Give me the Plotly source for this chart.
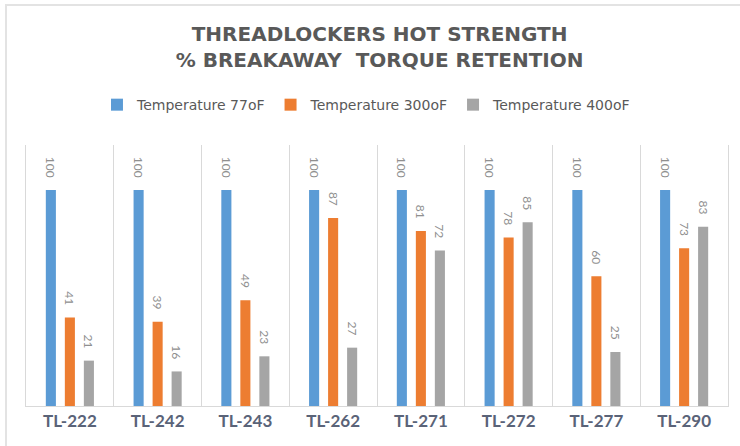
import plotly.graph_objects as go

categories = ["TL-222", "TL-242", "TL-243", "TL-262", "TL-271", "TL-272", "TL-277", "TL-290"]
series_names = ["Temperature 77oF", "Temperature 300oF", "Temperature 400oF"]
temp_77 = [100, 100, 100, 100, 100, 100, 100, 100]
temp_300 = [41, 39, 49, 87, 81, 78, 60, 73]
temp_400 = [21, 16, 23, 27, 72, 85, 25, 83]
colors = ["#5B9BD5", "#ED7D31", "#A5A5A5"]

PAD = "\u00a0\u00a0\u00a0"

fig = go.Figure()
for name, vals, col in zip(series_names, [temp_77, temp_300, temp_400], colors):
    fig.add_trace(go.Bar(
        x=categories, y=vals, name=name,
        marker=dict(color=col, line=dict(width=0)),
        text=[str(v) + PAD for v in vals],
        textposition="outside",
        textangle=90,
        constraintext="none",
        cliponaxis=False,
        textfont=dict(family="Lato, Open Sans, sans-serif", size=12, color="#8f8f8f"),
    ))

fig.update_layout(
    width=740, height=446,
    margin=dict(l=26, r=12, t=145, b=40),
    paper_bgcolor="white", plot_bgcolor="white",
    barmode="group", bargap=0.35, bargroupgap=0.47,
    title=dict(
        text="<b>THREADLOCKERS HOT STRENGTH<br>% BREAKAWAY  TORQUE RETENTION</b>",
        x=0.513, xanchor="center", y=1 - 41 / 446, yanchor="top", yref="container",
        font=dict(family="DejaVu Sans, sans-serif", size=20, color="#595959"),
    ),
    legend=dict(
        orientation="h", x=0.485, xanchor="center", y=1.153, yanchor="middle",
        font=dict(family="DejaVu Sans, sans-serif", size=14, color="#595959"),
        traceorder="normal",
    ),
    showlegend=True,
    xaxis=dict(
        showgrid=True, gridcolor="#D9D9D9", gridwidth=1, tickson="boundaries",
        showline=True, linecolor="#D9D9D9", linewidth=1,
        ticks="", tickfont=dict(family="Liberation Sans Narrow, Lato, sans-serif", size=17, color="#5a6378", weight="bold"),
        range=[-0.5, 7.5],
    ),
    yaxis=dict(
        range=[0, 120.8], showgrid=False, showticklabels=False, zeroline=False,
        showline=True, mirror=True, linecolor="#D9D9D9", linewidth=1,
    ),
    shapes=[dict(
        type="rect", xref="paper", yref="paper",
        x0=(6 - 26) / 702, x1=1.2, y0=-0.5, y1=1 + (145 - 5) / 261,
        line=dict(color="#E3E3E3", width=2), fillcolor="rgba(0,0,0,0)", layer="below",
    )],
)

fig.write_html("out.html", config={"displayModeBar": False},
               post_script="document.body.style.margin='0';")
